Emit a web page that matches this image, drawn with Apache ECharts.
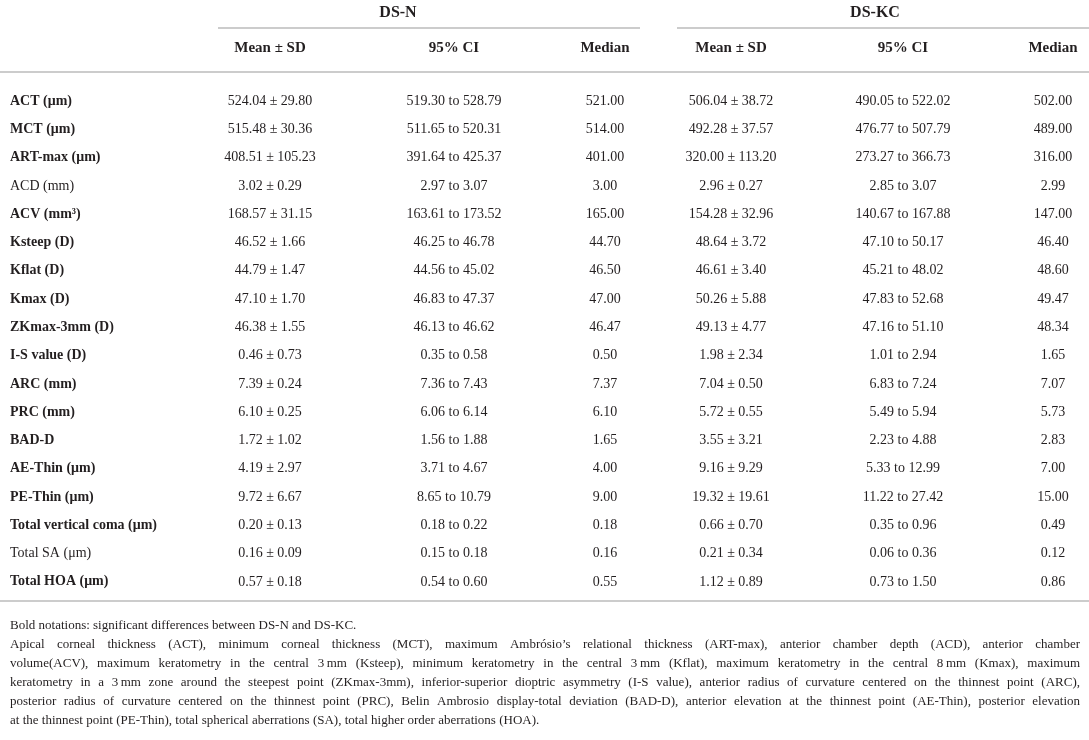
<!DOCTYPE html>
<html lang="en">

<head>
    <meta charset="utf-8">
    <title>DS-N vs DS-KC</title>
    <script src="https://cdn.jsdelivr.net/npm/echarts@6/dist/echarts.min.js"></script>
    <style>
        html, body { margin: 0; padding: 0; background: #fff; }
    </style>
</head>

<body>
    <div id="main" style="width: 1089px;height:740px;"></div>
</body>

<script>
    // 行名称
    var rowLabels = ['ACT (μm)', 'MCT (μm)', 'ART-max (μm)', 'ACD (mm)', 'ACV (mm³)', 'Ksteep (D)', 'Kflat (D)',
        'Kmax (D)', 'ZKmax-3mm (D)', 'I-S value (D)', 'ARC (mm)', 'PRC (mm)', 'BAD-D', 'AE-Thin (μm)',
        'PE-Thin (μm)', 'Total vertical coma (μm)', 'Total SA (μm)', 'Total HOA (μm)'];
    // 显著差异的行用粗体
    var rowBold = [1, 1, 1, 0, 1, 1, 1, 1, 1, 1, 1, 1, 1, 1, 1, 1, 0, 1];

    // DS-N
    var nMeanSD = ['524.04 ± 29.80', '515.48 ± 30.36', '408.51 ± 105.23', '3.02 ± 0.29', '168.57 ± 31.15',
        '46.52 ± 1.66', '44.79 ± 1.47', '47.10 ± 1.70', '46.38 ± 1.55', '0.46 ± 0.73', '7.39 ± 0.24',
        '6.10 ± 0.25', '1.72 ± 1.02', '4.19 ± 2.97', '9.72 ± 6.67', '0.20 ± 0.13', '0.16 ± 0.09', '0.57 ± 0.18'];
    var nCI = ['519.30 to 528.79', '511.65 to 520.31', '391.64 to 425.37', '2.97 to 3.07', '163.61 to 173.52',
        '46.25 to 46.78', '44.56 to 45.02', '46.83 to 47.37', '46.13 to 46.62', '0.35 to 0.58', '7.36 to 7.43',
        '6.06 to 6.14', '1.56 to 1.88', '3.71 to 4.67', '8.65 to 10.79', '0.18 to 0.22', '0.15 to 0.18', '0.54 to 0.60'];
    var nMedian = ['521.00', '514.00', '401.00', '3.00', '165.00', '44.70', '46.50', '47.00', '46.47', '0.50',
        '7.37', '6.10', '1.65', '4.00', '9.00', '0.18', '0.16', '0.55'];

    // DS-KC
    var kcMeanSD = ['506.04 ± 38.72', '492.28 ± 37.57', '320.00 ± 113.20', '2.96 ± 0.27', '154.28 ± 32.96',
        '48.64 ± 3.72', '46.61 ± 3.40', '50.26 ± 5.88', '49.13 ± 4.77', '1.98 ± 2.34', '7.04 ± 0.50',
        '5.72 ± 0.55', '3.55 ± 3.21', '9.16 ± 9.29', '19.32 ± 19.61', '0.66 ± 0.70', '0.21 ± 0.34', '1.12 ± 0.89'];
    var kcCI = ['490.05 to 522.02', '476.77 to 507.79', '273.27 to 366.73', '2.85 to 3.07', '140.67 to 167.88',
        '47.10 to 50.17', '45.21 to 48.02', '47.83 to 52.68', '47.16 to 51.10', '1.01 to 2.94', '6.83 to 7.24',
        '5.49 to 5.94', '2.23 to 4.88', '5.33 to 12.99', '11.22 to 27.42', '0.35 to 0.96', '0.06 to 0.36', '0.73 to 1.50'];
    var kcMedian = ['502.00', '489.00', '316.00', '2.99', '147.00', '46.40', '48.60', '49.47', '48.34', '1.65',
        '7.07', '5.73', '2.83', '7.00', '15.00', '0.49', '0.12', '0.86'];

    // 表头
    var groupNames = ['DS-N', 'DS-KC'];
    var colHeaders = ['Mean ± SD', '95% CI', 'Median', 'Mean ± SD', '95% CI', 'Median'];

    // 脚注
    var noteLines = [
        'Bold notations: significant differences between DS-N and DS-KC.',
        'Apical corneal thickness (ACT), minimum corneal thickness (MCT), maximum Ambrósio’s relational thickness (ART-max), anterior chamber depth (ACD), anterior chamber',
        'volume(ACV), maximum keratometry in the central 3\u2009mm (Ksteep), minimum keratometry in the central 3\u2009mm (Kflat), maximum keratometry in the central 8\u2009mm (Kmax), maximum',
        'keratometry in a 3\u2009mm zone around the steepest point (ZKmax-3mm), inferior-superior dioptric asymmetry (I-S value), anterior radius of curvature centered on the thinnest point (ARC),',
        'posterior radius of curvature centered on the thinnest point (PRC), Belin Ambrosio display-total deviation (BAD-D), anterior elevation at the thinnest point (AE-Thin), posterior elevation',
        'at the thinnest point (PE-Thin), total spherical aberrations (SA), total higher order aberrations (HOA).'
    ];
    var noteJustify = [false, true, true, true, true, false];

    // 列的位置 (x 轴上的值)
    var COL_X = [10, 270, 454, 605, 731, 903, 1053];
    var FONT = '"Liberation Serif", "DejaVu Serif", serif';
    var TXT = '#231f20';
    var RULE = '#cccccc';

    var columns = [rowLabels, nMeanSD, nCI, nMedian, kcMeanSD, kcCI, kcMedian];

    var cells = [];
    for (var r = 0; r < rowLabels.length; r++) {
        for (var c = 0; c < columns.length; c++) {
            cells.push([c, r]);
        }
    }

    var myChart = echarts.init(document.getElementById('main'));

    function renderCell(params, api) {
        var c = api.value(0);
        var r = api.value(1);
        var p = api.coord([COL_X[c], r]);
        var isLabel = c === 0;
        return {
            type: 'text',
            x: p[0],
            y: p[1],
            style: {
                text: columns[c][r],
                fill: TXT,
                fontFamily: FONT,
                fontSize: 14,
                fontWeight: (isLabel && rowBold[r]) ? 'bold' : 'normal',
                align: isLabel ? 'left' : 'center',
                verticalAlign: 'middle'
            }
        };
    }

    // 脚注两端对齐：逐词放置
    var measureCtx = document.createElement('canvas').getContext('2d');
    var NOTE_SIZE = 13;
    measureCtx.font = NOTE_SIZE + 'px ' + FONT;
    var noteGraphics = [];
    var NOTE_LEFT = 10, NOTE_RIGHT = 1080, NOTE_TOP = 626, NOTE_STEP = 19;
    for (var i = 0; i < noteLines.length; i++) {
        var y = NOTE_TOP + i * NOTE_STEP;
        var words = noteLines[i].split(' ');
        var widths = words.map(function (w) { return measureCtx.measureText(w).width; });
        var sum = widths.reduce(function (a, b) { return a + b; }, 0);
        var gap = noteJustify[i] ? (NOTE_RIGHT - NOTE_LEFT - sum) / (words.length - 1) : measureCtx.measureText(' ').width;
        var x = NOTE_LEFT;
        for (var k = 0; k < words.length; k++) {
            noteGraphics.push({
                type: 'text', x: x, y: y,
                style: { text: words[k], fill: TXT, fontFamily: FONT, fontSize: NOTE_SIZE, verticalAlign: 'middle' }
            });
            x += widths[k] + gap;
        }
    }

    function hline(x1, x2, y) {
        return {
            type: 'line',
            shape: { x1: x1, y1: y, x2: x2, y2: y },
            style: { stroke: RULE, lineWidth: 2 }
        };
    }

    var headerGraphics = [
        { type: 'text', x: 398, y: 13, style: { text: groupNames[0], fill: TXT, fontFamily: FONT, fontSize: 16, fontWeight: 'bold', align: 'center', verticalAlign: 'middle' } },
        { type: 'text', x: 875, y: 13, style: { text: groupNames[1], fill: TXT, fontFamily: FONT, fontSize: 16, fontWeight: 'bold', align: 'center', verticalAlign: 'middle' } },
        hline(218, 640, 28),
        hline(677, 1089, 28),
        hline(0, 1089, 72),
        hline(0, 1089, 601)
    ];
    for (var h = 0; h < colHeaders.length; h++) {
        headerGraphics.push({
            type: 'text', x: COL_X[h + 1], y: 48,
            style: { text: colHeaders[h], fill: TXT, fontFamily: FONT, fontSize: 15, fontWeight: 'bold', align: 'center', verticalAlign: 'middle' }
        });
    }

    var option = {
        backgroundColor: '#fff',
        animation: false,
        grid: { left: 0, right: 0, top: 87, bottom: 144 },
        xAxis: { type: 'value', min: 0, max: 1089, show: false },
        yAxis: { type: 'category', data: rowLabels, inverse: true, show: false },
        graphic: headerGraphics.concat(noteGraphics),
        series: [{
            type: 'custom',
            renderItem: renderCell,
            data: cells,
            encode: { x: 0, y: 1 },
            silent: true
        }]
    };
    myChart.setOption(option);
</script>

</html>
